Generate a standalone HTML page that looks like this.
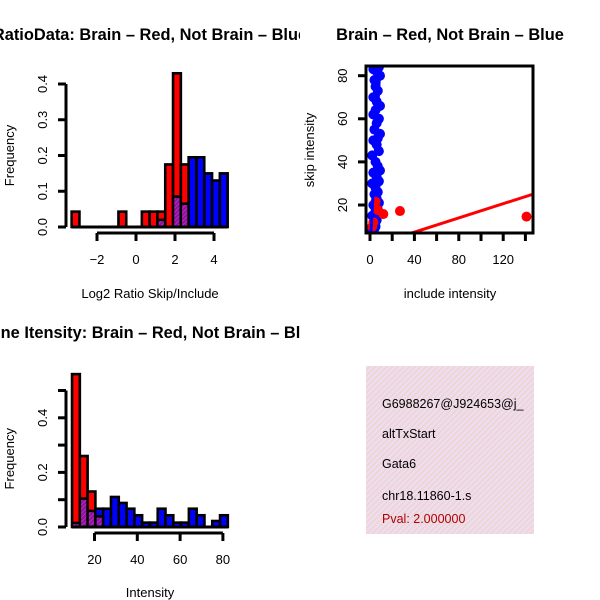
<!DOCTYPE html>
<html><head><meta charset="utf-8"><style>
html,body{margin:0;padding:0;background:#fff}
svg{display:block;font-family:"Liberation Sans",Arial,sans-serif}
</style></head><body>
<svg id="s" width="600" height="600" viewBox="0 0 600 600" xmlns="http://www.w3.org/2000/svg">
<defs>
<pattern id="hatch" width="4" height="4" patternUnits="userSpaceOnUse" patternTransform="rotate(45)">
<rect width="4" height="4" fill="#f6d8f0"/><rect width="1.3" height="4" fill="#dcdcc8"/></pattern>
<pattern id="ph" width="3" height="3" patternUnits="userSpaceOnUse" patternTransform="rotate(45)">
<rect width="3" height="3" fill="#8a10a8"/><rect width="1" height="3" fill="#b030b0"/></pattern>
<clipPath id="scClip"><rect x="366" y="66" width="167" height="167"/></clipPath>
<clipPath id="boxClip"><rect x="366" y="366" width="168" height="168"/></clipPath>
<clipPath id="leftClip"><rect x="0" y="0" width="300" height="600"/></clipPath>
</defs>
<g id="g1" clip-path="url(#leftClip)"></g>
<g id="g2"></g>
<g id="g3" clip-path="url(#leftClip)"></g>
<g>
<rect x="366" y="366" width="168" height="168" fill="url(#hatch)"/>
<g clip-path="url(#boxClip)" font-size="12.5">
<text x="382" y="408">G6988267@J924653@j_</text>
<text x="382" y="438">altTxStart</text>
<text x="382" y="468">Gata6</text>
<text x="382" y="500">chr18.11860-1.s</text>
<text x="382" y="523" fill="#b00000">Pval: 2.000000</text>
</g></g>
</svg>
<script>
// Histogram 1: log2 ratio
const h1Red  = [0.043,0,0,0,0,0,0.043,0,0,0.043,0.043,0.043,0.175,0.43,0.175,0,0,0,0,0];
const h1Blue = [0,0,0,0,0,0,0,0,0,0,0,0.02,0,0.085,0.065,0.195,0.195,0.15,0.13,0.15];
const h1Start = -3.3, h1Width = 0.4;
const h1XTicks = [-2,0,2,4];
const h1YTicks = [0,0.1,0.2,0.3,0.4];
// Histogram 2: intensity
const h2Red  = [0.56,0.26,0.13,0.039,0,0,0,0,0,0,0,0,0,0,0,0,0,0,0,0];
const h2Blue = [0.015,0.104,0.059,0.067,0.067,0.11,0.088,0.067,0.043,0.016,0.016,0.067,0.043,0.016,0.016,0.067,0.043,0,0.022,0.043];
const h2Start = 9.5, h2Width = 3.64;
const h2XTicks = [20,40,60,80];
const h2YTicks = [0,0.1,0.2,0.3,0.4,0.5];
const h2YLabels = ["0.0","","0.2","","0.4",""];
// Scatter
const redX = [141,27,12,7,2,5,3];
const redY = [14.6,17.2,15.8,17.7,10,21.5,12];
const blueX = [3,6,9,4,8,5,7,3,6,9,5,3,8,6,4,9,7,3,6,8,2,5,7,9,3,6,8,2,5,7,4,6,8,3,5,7,6,2,4,6,5,3,5,4,2];
const blueY = [83,82,80,78,84,75,73,70,68,66,64,62,60,58,55,53,51,50,48,45,43,40,38,36,35,33,31,30,28,26,25,23,21,20,19,18,17,15,14,13,12,11,10,9,8];
const redLine = [0.8,0.165];   // intercept, slope
const blueLine = [-1.6,9.57];
const scXTicks = [0,20,40,60,80,100,120,140];
const scXLabels = ["0","","40","","80","","120",""];
const scYTicks = [20,40,60,80];

const NS="http://www.w3.org/2000/svg";
function mk(parent,tag,attrs,text){const e=document.createElementNS(NS,tag);for(const k in attrs)e.setAttribute(k,attrs[k]);if(text!==undefined)e.textContent=text;parent.appendChild(e);return e;}

function hist(g,red,blue,start,width,sx,sy,xt,xl,yt,yl,axY,axX,title,titleX,titleY,xlab,xlabY){
  const base=sy(0);
  for(let i=0;i<red.length;i++){
    const xa=sx(start+i*width), xb=sx(start+(i+1)*width);
    const r=red[i], b=blue[i];
    const mx=Math.max(r,b), mn=Math.min(r,b);
    if(mx<=0) continue;
    const big=mk(g,'rect',{x:xa,y:sy(mx),width:xb-xa,height:base-sy(mx),fill:r>=b?'#ff0000':'#0000ff',stroke:'#000','stroke-width':2.6});
    
    
    if(mn>0){
      const ov=mk(g,'rect',{x:xa+1.3,y:sy(mn),width:xb-xa-2.6,height:base-sy(mn)-1.3,fill:'url(#ph)'});
      
      
      mk(g,'line',{x1:xa,x2:xb,y1:sy(mn),y2:sy(mn),stroke:'#000','stroke-width':2.6});
    }
  }
  const bl=mk(g,'line',{x1:sx(start),x2:sx(start+red.length*width),y1:base,y2:base,stroke:'#000','stroke-width':3});
  
  
  const ya=mk(g,'g',{});
  
  
  mk(ya,'line',{x1:axX,x2:axX,y1:sy(yt[0]),y2:sy(yt[yt.length-1]),stroke:'#000','stroke-width':3});
  yt.forEach((v,i)=>{mk(ya,'line',{x1:axX-8,x2:axX,y1:sy(v),y2:sy(v),stroke:'#000','stroke-width':3});
    if(yl[i]){const t=mk(ya,'text',{x:0,y:0,'font-size':13,'text-anchor':'middle',transform:`translate(47,${sy(v)}) rotate(-90)`},yl[i]);}});
  const xa=mk(g,'g',{});
  
  
  mk(xa,'line',{x1:sx(xt[0]),x2:sx(xt[xt.length-1]),y1:axY,y2:axY,stroke:'#000','stroke-width':3});
  xt.forEach((v,i)=>{mk(xa,'line',{x1:sx(v),x2:sx(v),y1:axY,y2:axY+8,stroke:'#000','stroke-width':3});
    const t=mk(xa,'text',{x:sx(v),y:axY+31,'font-size':13,'text-anchor':'middle'},xl[i]);});
  const tt=mk(g,'text',{x:titleX,y:titleY,'font-size':16.4,'font-weight':'bold','text-anchor':'middle'},title);
  
  
  const xt2=mk(g,'text',{x:150,y:xlabY,'font-size':13,'text-anchor':'middle'},xlab);
  
  
  const yt2=mk(g,'text',{x:0,y:0,'font-size':13,'text-anchor':'middle',transform:`translate(14,${(sy(yt[0])+sy(yt[yt.length-1]))/2}) rotate(-90)`},'Frequency');
  
  
}
hist(document.getElementById('g1'),h1Red,h1Blue,h1Start,h1Width,
  v=>136+v*19.5, v=>227-v*357.5,
  h1XTicks,h1XTicks.map(String).map(s=>s.replace('-','\u2212')),h1YTicks,["0.0","0.1","0.2","0.3","0.4"],233,66,
  'RatioData: Brain \u2013 Red, Not Brain \u2013 Blue',150,40,'Log2 Ratio Skip/Include',298);
hist(document.getElementById('g3'),h2Red,h2Blue,h2Start,h2Width,
  v=>51.7+v*2.14, v=>527-v*273,
  h2XTicks,h2XTicks.map(String),h2YTicks,h2YLabels,533,66,
  'Spline Itensity: Brain \u2013 Red, Not Brain \u2013 Blue',145,338,'Intensity',597);
(function(){
  const g=document.getElementById('g2');
  const sx=v=>370+v*1.11, sy=v=>205-(v-20)*2.155;
  const cg=mk(g,'g',{'clip-path':'url(#scClip)'});
  for(let i=0;i<blueX.length;i++){const c=mk(cg,'circle',{cx:sx(blueX[i]),cy:sy(blueY[i]),r:5,fill:'#0000ff'});
    
    }
  for(let i=0;i<redX.length;i++){const c=mk(cg,'circle',{cx:sx(redX[i]),cy:sy(redY[i]),r:5,fill:'#ff0000'});
    
    }
  const rl=mk(cg,'line',{x1:sx(0),y1:sy(redLine[0]),x2:sx(160),y2:sy(redLine[0]+redLine[1]*160),stroke:'#ff0000','stroke-width':3});
  
  
  const bl=mk(cg,'line',{x1:sx((0-blueLine[0])/blueLine[1]),y1:sy(0),x2:sx((100-blueLine[0])/blueLine[1]),y2:sy(100),stroke:'#0000ff','stroke-width':3});
  
  
  const b=mk(g,'rect',{x:366,y:66,width:167,height:167,fill:'none',stroke:'#000','stroke-width':3});
  
  
  scXTicks.forEach((v,i)=>{mk(g,'line',{x1:sx(v),x2:sx(v),y1:233,y2:241,stroke:'#000','stroke-width':3});
    if(scXLabels[i]){const t=mk(g,'text',{x:sx(v),y:264,'font-size':13,'text-anchor':'middle'},scXLabels[i]);}});
  scYTicks.forEach(v=>{mk(g,'line',{x1:358,x2:366,y1:sy(v),y2:sy(v),stroke:'#000','stroke-width':3});
    const t=mk(g,'text',{x:0,y:0,'font-size':13,'text-anchor':'middle',transform:`translate(347,${sy(v)}) rotate(-90)`},String(v));});
  const tt=mk(g,'text',{x:450,y:40,'font-size':16.4,'font-weight':'bold','text-anchor':'middle'},'Brain \u2013 Red, Not Brain \u2013 Blue');
  
  
  const xl=mk(g,'text',{x:450,y:298,'font-size':13,'text-anchor':'middle'},'include intensity');
  
  
  const yl=mk(g,'text',{x:0,y:0,'font-size':13,'text-anchor':'middle',transform:'translate(314,150) rotate(-90)'},'skip intensity');
  
  
})();
</script>
</body></html>
